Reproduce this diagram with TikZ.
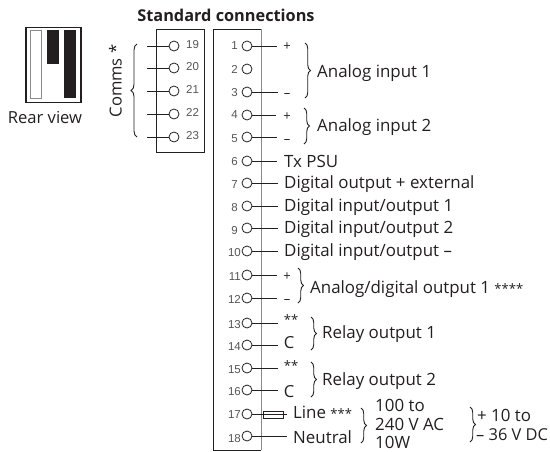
\documentclass[tikz,border=0pt]{standalone}
\usepackage{fontspec}
\setmainfont{Open Sans}
\newfontfamily\numfont{Liberation Sans}
\usetikzlibrary{decorations.pathreplacing}
\definecolor{ink}{HTML}{231F20}
\definecolor{edge}{HTML}{8A8A8A}
\definecolor{numc}{HTML}{555555}
\newcommand{\smallstars}[1]{{\fontsize{13}{15}\selectfont #1}}
\tikzset{
  x=1pt,y=-1pt,
  term/.style={circle,draw=ink,line width=0.8pt,fill=white,minimum size=10pt,inner sep=0pt},
  wire/.style={draw=ink,line width=0.9pt},
  lab/.style={anchor=mid west,inner sep=0pt,yshift=-3.5pt,text=ink,font=\fontsize{16.9}{18}\selectfont},
  smalllab/.style={anchor=mid,inner sep=0pt,yshift=-2.5pt,text=ink,font=\fontsize{13}{15}\selectfont},
  biglab/.style={anchor=mid,inner sep=0pt,yshift=-3.5pt,text=ink,font=\fontsize{16.6}{18}\selectfont},
  num/.style={anchor=mid east,inner sep=0pt,yshift=-1pt,text=numc,font=\numfont\fontsize{11.5}{13}\selectfont},
  cnum/.style={anchor=mid west,inner sep=0pt,yshift=-1pt,text=numc,font=\numfont\fontsize{11.5}{13}\selectfont},
  rbrace/.style={draw=ink,line width=0.9pt,decorate,decoration={brace,amplitude=#1}},
  rbrace/.default=5.5pt,
  boxline/.style={draw=ink,line width=0.8pt},
}
\begin{document}
\begin{tikzpicture}
\useasboundingbox (0,0) rectangle (550,451);
% Rear view
\draw[ink,line width=1.6pt] (26,27.5) rectangle (81,102.5);
\draw[edge,line width=0.7pt,fill=white] (30,30.5) rectangle (41.5,98);
\fill[ink] (47,30) rectangle (59,64);
\fill[ink] (64,30) rectangle (76,98);
\node[biglab] (rear) at (45,117) {Rear view};
\node[anchor=mid,inner sep=0pt,yshift=-3pt,text=ink,font=\bfseries\fontsize{16.3}{18}\selectfont] (title) at (226,15.5) {Standard connections};
\node[anchor=mid,inner sep=0pt,text=ink,rotate=90,font=\fontsize{16.6}{18}\selectfont] (comms) at (119,81) {Comms *};
% Boxes
\draw[boxline] (156,29) rectangle (204,152);
\draw[boxline] (261,29) -- (213,29) -- (213,450) -- (261,450);
\draw[edge,line width=1pt] (261,29) -- (261,450);
% Comms terminals
\foreach \n/\y/\ly in {19/46/45,20/68/67,21/91/90,22/114/113,23/137/136}{
  \coordinate (e\n) at (147,\y);
  \draw[wire] (e\n) -- (169,\y);
  \node[term] (t\n) at (174,\y) {};
  \node[cnum] (n\n) at (186,\ly) {\n};
}
% Main terminals
\foreach \n/\y/\ly/\ex in {1/46/46/277,3/92/93/278,4/115/115/276,5/137/139/277,6/161/162/277,7/183/185/278,8/206/208/278,9/228/231/278,10/251/253/278,11/275/277/277,12/298/300/277,13/323/325/278,14/345/347/278,15/368/370/278,16/390/392/278,18/436/439/287}{
  \coordinate (e\n) at (\ex,\y);
  \node[term] (t\n) at (247,\y) {};
  \draw[wire] (t\n) -- (e\n);
}
\node[term] (t2) at (247,69) {};
\node[term] (t17) at (247,414) {};
\node[draw=ink,line width=0.8pt,minimum width=20pt,minimum height=7pt,inner sep=0pt,fill=white] (fuse) at (273,414.5) {};
\coordinate (e17) at (287,414);
\draw[wire] (t17) -- (e17);
\foreach \n/\ly in {1/46,2/70,3/93,4/115,5/139,6/162,7/185,8/208,9/231}{
  \node[num] (n\n) at (238,\ly) {\n};
}
\foreach \n/\ly in {10/253,11/277,12/300,13/325,14/347,15/370,16/392,17/415,18/439}{
  \node[num] (n\n) at (241,\ly) {\n};
}
% Labels
\node[smalllab] (p1) at (287,45) {+};
\node[smalllab] (m3) at (287,92) {–};
\node[smalllab] (p4) at (287,115) {+};
\node[smalllab] (m5) at (287,138) {–};
\node[smalllab] (p11) at (287,275) {+};
\node[smalllab] (m12) at (287,298) {–};
\node[smalllab] (s13) at (291,319) {**};
\node[biglab] (c14) at (289,342) {C};
\node[smalllab] (s15) at (291,365) {**};
\node[biglab] (c16) at (289,391) {C};
\node[lab] (tx) at (284,161) {Tx PSU};
\node[lab] (d7) at (284,182) {Digital output + external};
\node[lab] (d8) at (284,205) {Digital input/output 1};
\node[lab] (d9) at (284,227.5) {Digital input/output 2};
\node[lab] (d10) at (284,250) {Digital input/output –};
\node[lab] (a1) at (317,71) {Analog input 1};
\node[lab] (a2) at (317,125) {Analog input 2};
\node[lab] (ad) at (310,287) {Analog/digital output 1 \smallstars{****}};
\node[lab] (r1) at (322,332) {Relay output 1};
\node[lab] (r2) at (322,379) {Relay output 2};
\node[lab] (line) at (293,412) {Line \smallstars{***}};
\node[lab] (neutral) at (293,437) {Neutral};
\node[lab] (v1) at (375,405) {100 to};
\node[lab] (v2) at (375,424) {240 V AC};
\node[lab] (v3) at (375,442) {10W};
\node[lab] (dc1) at (477,415) {+ 10 to};
\node[lab,font=\fontsize{16.4}{18}\selectfont] (dc2) at (476,434) {– 36 V DC};
% Braces
\draw[rbrace] (305,43) -- (305,98);
\draw[rbrace] (304,108) -- (304,144);
\draw[rbrace] (298,268) -- (298,303);
\draw[rbrace] (311,317) -- (311,350);
\draw[rbrace] (311,362) -- (311,397);
\draw[rbrace] (361,408) -- (361,443);
\draw[rbrace] (470,407) -- (470,442);
\draw[rbrace=6pt] (137,137) -- (137,44);
\end{tikzpicture}
\end{document}
